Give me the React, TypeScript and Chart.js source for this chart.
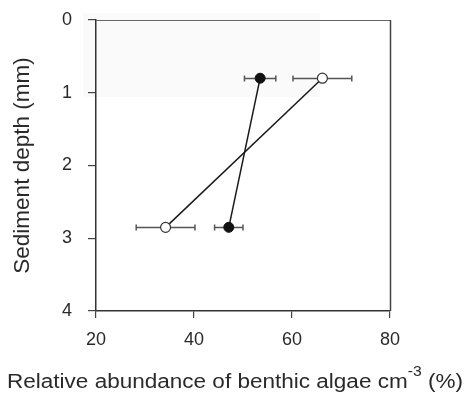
import { useEffect, useRef } from "react";
import { Chart, registerables } from "chart.js";

Chart.register(...registerables);

// Sampling depths (mm) shared by both series
const depthLevels = [0.8, 2.85];

// Filled circles: mean relative abundance (%) and its error
const filledMeans = [53.5, 47.1];
const filledErrors = [3.2, 2.9];

// Open circles: mean relative abundance (%) and its error
const openMeans = [66.2, 34.2];
const openErrors = [6.0, 6.0];

// Axis ticks
const xTickValues = [20, 40, 60, 80];
const yTickValues = [0, 1, 2, 3, 4];

// Axis titles
const xTitleMain = "Relative abundance of benthic algae cm";
const xTitleSup = "-3";
const xTitleTail = " (%)";
const yTitle = "Sediment depth (mm)";

const FONT = "'Liberation Sans', Arial, Helvetica, sans-serif";
const INK = "#2a2a2a";

const seriesErrors = [filledErrors, openErrors];

const toPoints = (xs: number[]) => xs.map((v, i) => ({ x: v, y: depthLevels[i] }));

// Horizontal error bars with end caps, drawn under the markers
const errorBarPlugin = {
  id: "errorBars",
  beforeDatasetsDraw(chart: any) {
    const { ctx } = chart;
    const xs = chart.scales.x;
    const ys = chart.scales.y;
    ctx.save();
    ctx.strokeStyle = "#555";
    ctx.lineWidth = 1.5;
    chart.data.datasets.forEach((ds: any, i: number) => {
      const errs = seriesErrors[i];
      ds.data.forEach((p: any, j: number) => {
        const py = Math.round(ys.getPixelForValue(p.y)) + 0.5;
        const x0 = xs.getPixelForValue(p.x - errs[j]);
        const x1 = xs.getPixelForValue(p.x + errs[j]);
        ctx.beginPath();
        ctx.moveTo(x0, py);
        ctx.lineTo(x1, py);
        ctx.moveTo(x0, py - 3);
        ctx.lineTo(x0, py + 3);
        ctx.moveTo(x1, py - 3);
        ctx.lineTo(x1, py + 3);
        ctx.stroke();
      });
    });
    ctx.restore();
  },
};

// Faint shading behind the upper-left of the plot, plus top and right frame lines
const framePlugin = {
  id: "frame",
  beforeDraw(chart: any) {
    const { ctx } = chart;
    ctx.save();
    ctx.fillStyle = "#fafafa";
    ctx.fillRect(83, 13, 237, 84);
    ctx.restore();
  },
  afterDraw(chart: any) {
    const { ctx, chartArea } = chart;
    const { left, right, top, bottom } = chartArea;
    ctx.save();
    ctx.strokeStyle = "#666";
    ctx.lineWidth = 1;
    ctx.beginPath();
    ctx.moveTo(left, Math.round(top) + 0.5);
    ctx.lineTo(right, Math.round(top) + 0.5);
    ctx.stroke();
    ctx.strokeStyle = "#444";
    ctx.lineWidth = 1.5;
    ctx.beginPath();
    ctx.moveTo(Math.round(right) + 0.5, top);
    ctx.lineTo(Math.round(right) + 0.5, bottom);
    ctx.stroke();
    ctx.restore();
  },
};

// X-axis title with a superscript exponent, stretched to span the full width
const xTitlePlugin = {
  id: "xTitle",
  afterDraw(chart: any) {
    const { ctx } = chart;
    const mainSize = 20;
    const supSize = 14;
    const targetWidth = 456;
    ctx.save();
    ctx.fillStyle = INK;
    ctx.textBaseline = "alphabetic";
    ctx.textAlign = "left";
    ctx.font = `${mainSize}px ${FONT}`;
    const wMain = ctx.measureText(xTitleMain).width;
    const wTail = ctx.measureText(xTitleTail).width;
    ctx.font = `${supSize}px ${FONT}`;
    const wSup = ctx.measureText(xTitleSup).width;
    const total = wMain + wSup + wTail;
    const sx = targetWidth / total;
    const cx = 235;
    const baseY = 388;
    ctx.translate(cx - targetWidth / 2, baseY);
    ctx.scale(sx, 1);
    let x = 0;
    ctx.font = `${mainSize}px ${FONT}`;
    ctx.fillText(xTitleMain, x, 0);
    x += wMain;
    ctx.font = `${supSize}px ${FONT}`;
    ctx.fillText(xTitleSup, x, -12);
    x += wSup;
    ctx.font = `${mainSize}px ${FONT}`;
    ctx.fillText(xTitleTail, x, 0);
    ctx.restore();
  },
};

export default function App() {
  const canvasRef = useRef<HTMLCanvasElement | null>(null);

  useEffect(() => {
    document.body.style.margin = "0";
    const canvas = canvasRef.current;
    if (!canvas) return;

    const chart = new Chart(canvas, {
      type: "scatter",
      data: {
        datasets: [
          {
            label: "filled",
            data: toPoints(filledMeans),
            showLine: true,
            borderColor: "#1a1a1a",
            borderWidth: 1.5,
            pointRadius: 5,
            pointBackgroundColor: "#111",
            pointBorderColor: "#111",
            pointBorderWidth: 1,
          },
          {
            label: "open",
            data: toPoints(openMeans),
            showLine: true,
            borderColor: "#1a1a1a",
            borderWidth: 1.5,
            pointRadius: 5,
            pointBackgroundColor: "#fff",
            pointBorderColor: "#333",
            pointBorderWidth: 1.2,
          },
        ],
      },
      options: {
        responsive: false,
        animation: false,
        devicePixelRatio: 1,
        layout: { padding: { top: 20, right: 82, left: 0, bottom: 0 } },
        plugins: {
          legend: { display: false },
          tooltip: { enabled: false },
        },
        scales: {
          x: {
            type: "linear",
            min: 20,
            max: 80,
            afterBuildTicks: (s: any) => {
              s.ticks = xTickValues.map((v) => ({ value: v }));
            },
            afterFit: (s: any) => {
              s.height = 83;
              s.paddingLeft = 0;
              s.paddingRight = 0;
            },
            grid: { drawOnChartArea: false, drawTicks: true, tickLength: 7, color: "#444", lineWidth: 1.2 },
            border: { display: true, color: "#333", width: 1.5 },
            ticks: { color: INK, padding: 11, font: { family: FONT, size: 18 } },
          },
          y: {
            type: "linear",
            reverse: true,
            min: 0,
            max: 4,
            afterBuildTicks: (s: any) => {
              s.ticks = yTickValues.map((v) => ({ value: v }));
            },
            afterFit: (s: any) => {
              s.width = 96;
              s.paddingTop = 0;
              s.paddingBottom = 0;
            },
            grid: { drawOnChartArea: false, drawTicks: true, tickLength: 8, color: "#444", lineWidth: 1.2 },
            border: { display: true, color: "#333", width: 1.5 },
            ticks: { color: INK, padding: 16, font: { family: FONT, size: 18 } },
            title: {
              display: true,
              text: yTitle,
              color: INK,
              font: { family: FONT, size: 22.5 },
              padding: { top: 9, bottom: 0 },
            },
          },
        },
      },
      plugins: [framePlugin, errorBarPlugin, xTitlePlugin],
    });

    return () => chart.destroy();
  }, []);

  return (
    <div style={{ width: 472, height: 394 }}>
      <canvas ref={canvasRef} width={472} height={394} />
    </div>
  );
}
